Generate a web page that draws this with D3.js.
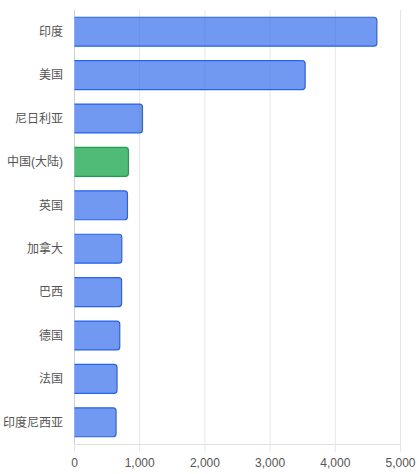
<!DOCTYPE html>
<html>
<head>
<meta charset="utf-8">
<script src="https://cdn.jsdelivr.net/npm/d3@7"></script>
<style>
  body { margin: 0; background: #fff; }
  text { font-family: "Liberation Sans", Arial, "Noto Sans CJK SC", sans-serif; }
</style>
</head>
<body>
<script>
// data
const countries = ['印度', '美国', '尼日利亚', '中国(大陆)', '英国', '加拿大', '巴西', '德国', '法国', '印度尼西亚'];
const values = [4645, 3545, 1050, 835, 820, 733, 730, 702, 660, 645];
const highlight = '中国(大陆)';
const xTicks = [0, 1000, 2000, 3000, 4000, 5000];

const width = 418, height = 474;
const margin = { top: 10, right: 18, bottom: 30, left: 74 };

const svg = d3.select('body').append('svg')
    .attr('width', width)
    .attr('height', height);

const x = d3.scaleLinear()
    .domain([0, 5000])
    .range([margin.left, width - margin.right]);

const y = d3.scaleBand()
    .domain(countries)
    .range([margin.top, height - margin.bottom])
    .paddingInner(0.31)
    .paddingOuter(0.155);

const data = countries.map((c, i) => ({ name: c, value: values[i] }));

// vertical grid
svg.append('g')
    .selectAll('line')
    .data(xTicks)
    .enter()
  .append('line')
    .attr('x1', d => x(d) + 0.5)
    .attr('x2', d => x(d) + 0.5)
    .attr('y1', margin.top)
    .attr('y2', height - margin.bottom)
    .attr('stroke', d => d === 0 ? '#cfcfcf' : '#e6e6e6')
    .attr('stroke-width', 1);

// bottom axis
const xAxis = svg.append('g')
    .attr('transform', `translate(0,${height - margin.bottom})`)
    .call(d3.axisBottom(x).tickValues(xTicks).tickSize(8).tickPadding(6).tickFormat(d3.format(',')));
xAxis.select('.domain').attr('stroke', '#e0e0e0').attr('d', `M${margin.left},0.5H${width - margin.right}`);
xAxis.selectAll('.tick line').attr('stroke', '#e6e6e6');
xAxis.selectAll('text').attr('fill', '#555').attr('font-size', 12);

// left labels
svg.append('g')
    .selectAll('text')
    .data(countries)
    .enter()
  .append('text')
    .attr('x', margin.left - 11)
    .attr('y', d => y(d) + y.bandwidth() / 2)
    .attr('dy', '0.35em')
    .attr('text-anchor', 'end')
    .attr('fill', '#555')
    .attr('font-size', 12)
    .text(d => d);

// bars: flat on the left, rounded on the right, no border on the left edge
const r = 3;
function barPath(x0, x1, y0, h, close) {
    const rr = Math.min(r, x1 - x0);
    return `M${x0},${y0}H${x1 - rr}Q${x1},${y0} ${x1},${y0 + rr}V${y0 + h - rr}Q${x1},${y0 + h} ${x1 - rr},${y0 + h}H${x0}` + (close ? 'Z' : '');
}

const bars = svg.append('g')
    .selectAll('g')
    .data(data)
    .enter()
  .append('g');

bars.append('path')
    .attr('d', d => barPath(x(0) + 0.5, x(d.value), y(d.name) + 0.5, y.bandwidth() - 1, true))
    .attr('fill', d => d.name === highlight ? 'rgba(22,163,74,0.75)' : 'rgba(37,99,235,0.65)');

bars.append('path')
    .attr('d', d => barPath(x(0) + 0.5, x(d.value), y(d.name) + 0.5, y.bandwidth() - 1, false))
    .attr('fill', 'none')
    .attr('stroke', d => d.name === highlight ? '#16a34a' : '#2563eb')
    .attr('stroke-width', 1.2);
</script>
</body>
</html>
